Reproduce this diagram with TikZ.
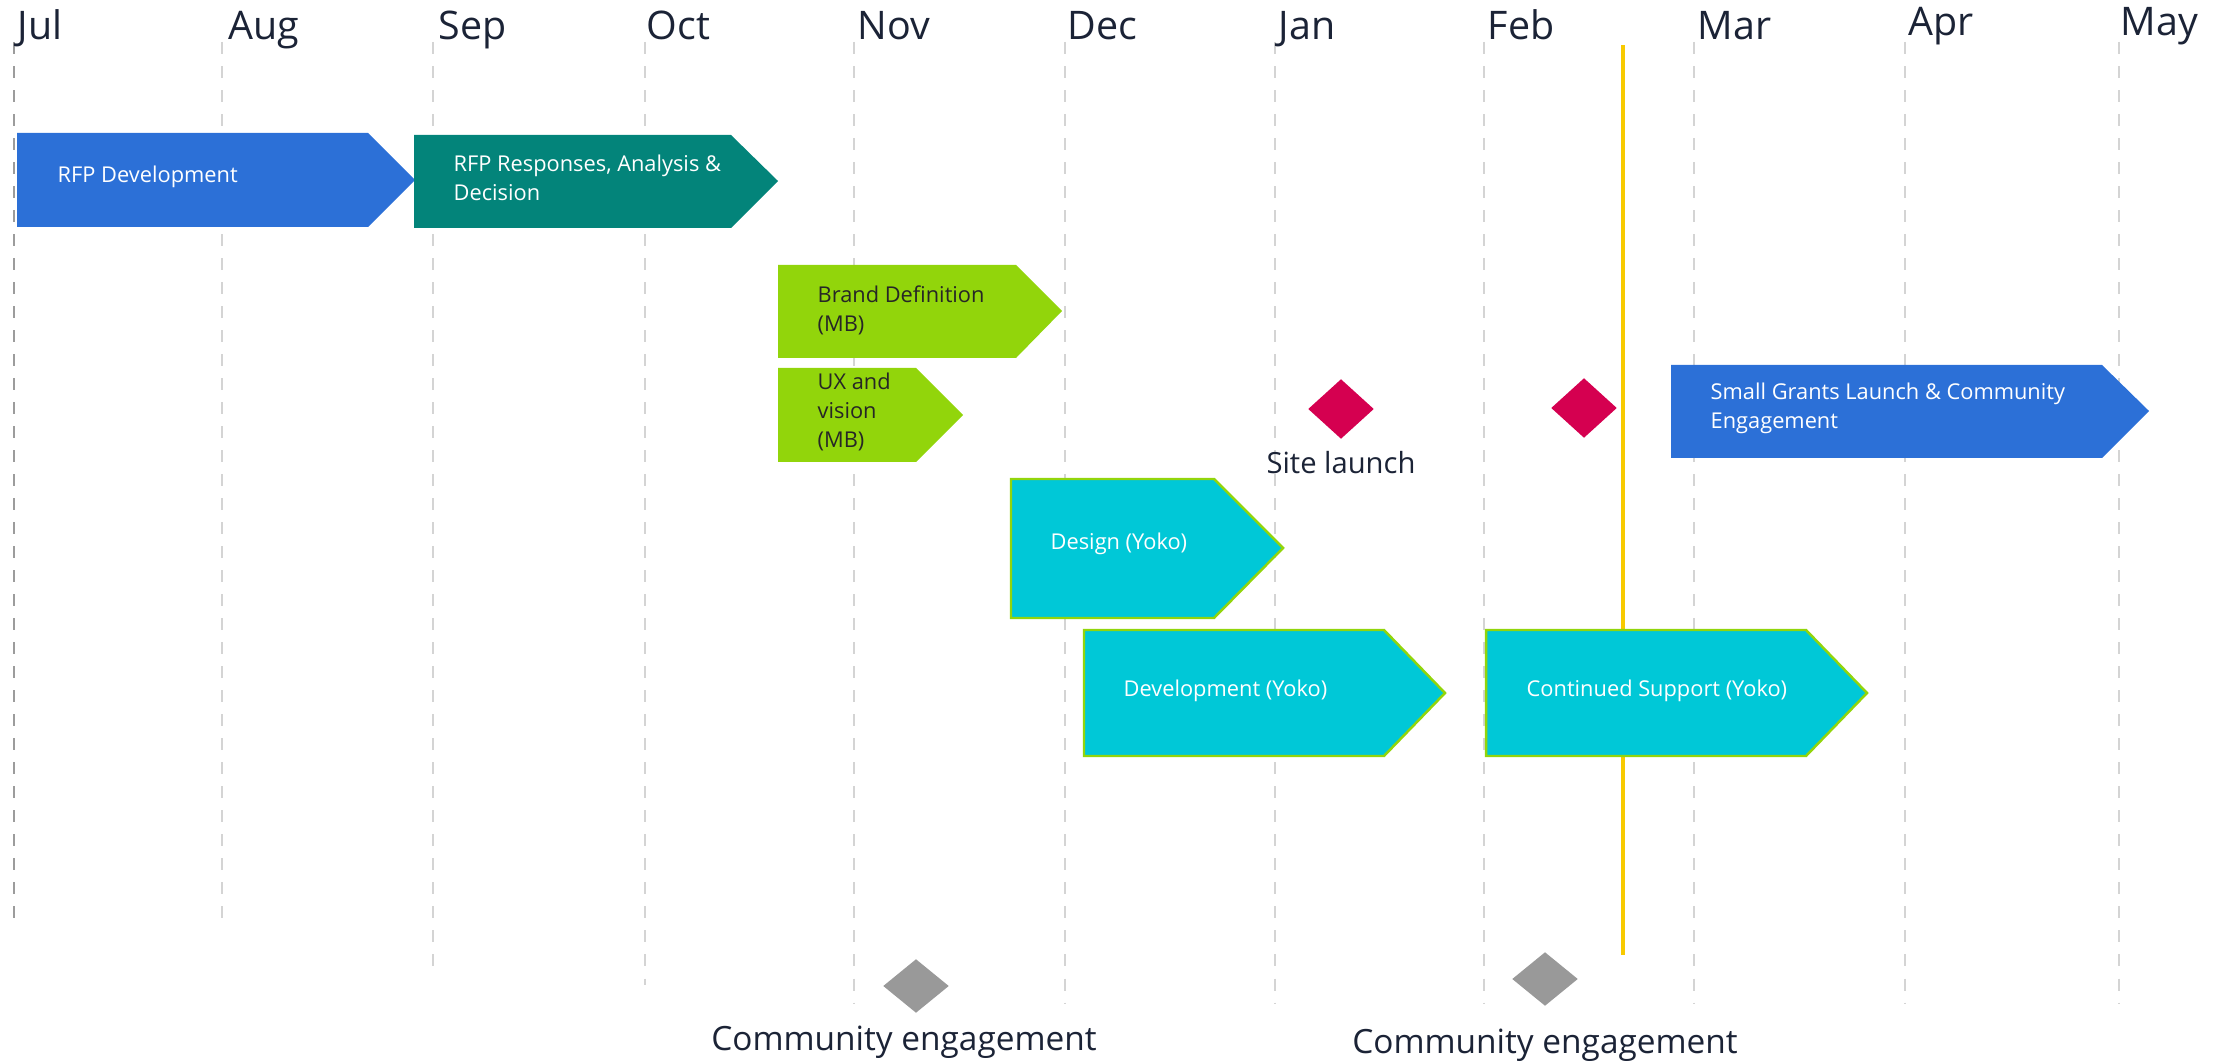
\documentclass[tikz,border=0pt]{standalone}
\usepackage{fontspec}
\setmainfont{Open Sans}
\usetikzlibrary{shapes.geometric,positioning}

\definecolor{monthink}{HTML}{1B2336}
\definecolor{gridgray}{HTML}{D4D4D4}
\definecolor{gridstart}{HTML}{9C9C9C}
\definecolor{rfpblue}{HTML}{2C70D7}
\definecolor{rfpteal}{HTML}{03847A}
\definecolor{mbgreen}{HTML}{92D50B}
\definecolor{yokocyan}{HTML}{00C8D7}
\definecolor{launchred}{HTML}{D50050}
\definecolor{commgray}{HTML}{999999}
\definecolor{todayline}{HTML}{F8CA00}

\tikzset{
    gridline/.style={draw=gridgray, line width=0.6pt, dash pattern=on 0.12cm off 0.12cm},
    month/.style={anchor=base west, inner sep=0pt, text=monthink, font=\fontsize{11.2}{13}\selectfont},
    bartext/.style={anchor=west, inner sep=0pt, align=left, text=white, font=\fontsize{6.2}{8.2}\selectfont},
    mbtext/.style={bartext, text=black!85},
    yokobar/.style={fill=yokocyan, draw=mbgreen, line width=0.7pt},
    milestone/.style={diamond, inner sep=0pt, minimum width=0.66cm, minimum height=0.6cm},
    caption/.style={inner sep=0pt, text=monthink},
}

\begin{document}
\begin{tikzpicture}[x=0.01cm, y=-0.01cm]
    \useasboundingbox (0,0) rectangle (2221,1064);

    % month grid
    \draw[gridline, draw=gridstart] (14,42) -- (14,927);
    \draw[gridline] (222,42) -- (222,927);
    \draw[gridline] (433,42) -- (433,975);
    \draw[gridline] (645,42) -- (645,985);
    \draw[gridline] (854,42) -- (854,1003);
    \draw[gridline] (1065,42) -- (1065,1003);
    \draw[gridline] (1275,42) -- (1275,1003);
    \draw[gridline] (1484,42) -- (1484,1003);
    \draw[gridline] (1694,42) -- (1694,1003);
    \draw[gridline] (1905,42) -- (1905,1003);
    \draw[gridline] (2119,42) -- (2119,1003);

    \node[month] (jul) at (17,40) {Jul};
    \node[month] (aug) at (228,40) {Aug};
    \node[month] (sep) at (438,40) {Sep};
    \node[month] (oct) at (646,40) {Oct};
    \node[month] (nov) at (857,40) {Nov};
    \node[month] (dec) at (1067,40) {Dec};
    \node[month] (jan) at (1278,40) {Jan};
    \node[month] (feb) at (1487,40) {Feb};
    \node[month] (mar) at (1697,40) {Mar};
    \node[month] (apr) at (1908,36) {Apr};
    \node[month] (may) at (2120,36) {May};

    % today
    \draw[todayline, line width=1.2pt] (1623,45) -- (1623,955);

    % phases
    \fill[rfpblue] (17,133) -- (368,133) -- (415,180) -- (368,227) -- (17,227) -- cycle;
    \node[bartext] (rfpdev) at (57,177) {RFP Development};

    \fill[rfpteal] (414,135) -- (731,135) -- (778,181) -- (731,228) -- (414,228) -- cycle;
    \node[bartext] (rfpresp) at (453,178) {RFP Responses, Analysis \&\\Decision};

    \fill[mbgreen] (778,265) -- (1016,265) -- (1062,311) -- (1016,358) -- (778,358) -- cycle;
    \node[mbtext] (brand) at (817,310) {Brand Definition\\(MB)};

    \fill[mbgreen] (778,368) -- (916,368) -- (963,415) -- (916,462) -- (778,462) -- cycle;
    \node[mbtext] (ux) at (817,412) {UX and\\vision\\(MB)};

    \path[yokobar] (1011,479) -- (1214,479) -- (1283,548) -- (1214,618) -- (1011,618) -- cycle;
    \node[bartext] (design) at (1050,544) {Design (Yoko)};

    \path[yokobar] (1084,630) -- (1384,630) -- (1445,693) -- (1384,756) -- (1084,756) -- cycle;
    \node[bartext] (devel) at (1123,691) {Development (Yoko)};

    \path[yokobar] (1486,630) -- (1806,630) -- (1867,693) -- (1806,756) -- (1486,756) -- cycle;
    \node[bartext] (support) at (1526,691) {Continued Support (Yoko)};

    \fill[rfpblue] (1671,365) -- (2102,365) -- (2149,411) -- (2102,458) -- (1671,458) -- cycle;
    \node[bartext] (grants) at (1710,408) {Small Grants Launch \& Community\\Engagement};

    % milestones
    \node[milestone, fill=launchred] (launchA) at (1341,409) {};
    \node[milestone, fill=launchred] (launchB) at (1584,408) {};
    \node[caption, below=0.11cm of launchA, font=\fontsize{8.3}{10}\selectfont] (sitelaunch) {Site launch};

    \node[milestone, fill=commgray, minimum height=0.54cm] (commA) at (916,986) {};
    \node[milestone, fill=commgray, minimum height=0.54cm] (commB) at (1545,979) {};
    \node[caption, below=0.12cm of commA, xshift=-0.12cm, font=\fontsize{9.5}{11}\selectfont] (commtextA) {Community engagement};
    \node[caption, below=0.22cm of commB, font=\fontsize{9.5}{11}\selectfont] (commtextB) {Community engagement};
\end{tikzpicture}
\end{document}
